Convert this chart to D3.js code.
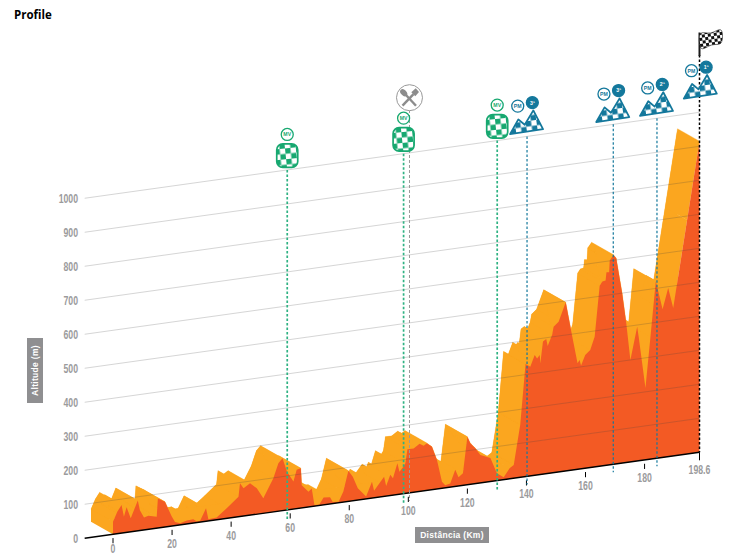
<!DOCTYPE html>
<html>
<head>
<meta charset="utf-8">
<script src="https://cdn.jsdelivr.net/npm/d3@7"></script>
<style>
  html, body { margin: 0; padding: 0; background: #fff; }
  svg { display: block; }
  .num { font-family: "Liberation Sans", sans-serif; font-weight: 700; font-size: 13px; fill: #9b9b9d; }
  .box-label { font-family: "Liberation Sans", sans-serif; font-weight: 700; font-size: 8.5px; fill: #fff; letter-spacing: 0.3px; }
  .badge { font-family: "Liberation Sans", sans-serif; font-weight: 700; font-size: 5.2px; }
</style>
</head>
<body>
<div id="wrapper"></div>
<script>
// Stage profile
const profileKm = [0, 1.5, 2.9, 3.7, 4.6, 6, 8.4, 9.1, 10.5, 12, 14.8, 15.2, 17.6, 19.9, 21, 22.7, 25, 27.2, 28.4, 29.5,
  31.5, 32.3, 35.1, 38.5, 42.5, 43, 44.2, 46.4, 48.7, 50.9, 54.3, 56, 57.4, 58.9, 61.1, 62.2, 63.6, 63.9, 66.2, 67.3,
  68.2, 69.9, 71.3, 73.5, 74.4, 76.4, 78, 79.7, 81.2, 82.9, 85.7, 87.7, 88.4, 91.8, 92.5, 93.9, 94.8, 96.3, 97, 98.2,
  99, 99.7, 101.8, 103.8, 105.2, 106.3, 108, 109.7, 111.4, 112.5, 114.2, 115.9, 117, 118.5, 120, 121, 122.7, 124.4, 127.8, 130,
  132.3, 134.3, 135.7, 137.9, 139.7, 141.3, 142.8, 143.6, 144.5, 144.7, 145.6, 146.7, 147.2, 148.7, 149.2, 150.9, 153.3, 155.4, 157.3, 158,
  158.5, 159.9, 161.6, 163.1, 164.8, 165.7, 166.8, 167.1, 168, 168.2, 169.5, 170.4, 172.4, 173.8, 175.2, 177.5, 178, 180.3, 182, 183.8,
  186.1, 188, 189.7, 194.4, 198.6]
const profileAlt = [37, 65, 83, 47, 74, 40, 89, 60, 37, 40, 34, 87, 74, 28, 11, 5, 10, 11, 3, 4,
  38, 5, 7, 30, 59, 98, 82, 94, 76, 44, 99, 141, 154, 113, 81, 114, 117, 67, 45, 53,
  3, 3, 22, 20, 5, 3, 31, 90, 71, 35, 7, 48, 21, 58, 30, 61, 50, 92, 66, 78,
  89, 129, 129, 140, 133, 139, 126, 85, 19, 8, 11, 49, 26, 36, 141, 121, 104, 82, 69, 22,
  7, 31, 39, 155, 331, 321, 354, 343, 352, 327, 390, 396, 375, 406, 429, 442, 496, 398, 312, 321,
  304, 333, 346, 383, 531, 542, 544, 568, 567, 601, 616, 605, 500, 410, 300, 395, 365, 211, 360, 521,
  436, 496, 435, 688, 915]

const altTicks = [0, 100, 200, 300, 400, 500, 600, 700, 800, 900, 1000]
const kmTicks = [0, 20, 40, 60, 80, 100, 120, 140, 160, 180, 198.6]
const sprintKm = [59, 98.4, 130.1]
const climbKm = [140.2, 169.4, 184.2, 198.6]
const climbRank = ["3ª", "3ª", "2ª", "1ª"]
const feedKm = 100.4
const finishKm = 198.6
const axisStartKm = -9.6

const width = 743
const height = 556
const green = "#17a870"
const blue = "#14789c"
const yellow = "#fba61f"
const orange = "#f35a24"
const backDx = -22
const backDy = -12.5

const xScale = d3.scaleLinear().domain([0, finishKm]).range([113, 699.5])
const baseScale = d3.scaleLinear().domain([0, finishKm]).range([534.3, 452.3])
const altScale = d3.scaleLinear().domain([0, 1000]).range([0, 340])
const topY = km => baseScale(km) - altScale(1000)

const profile = profileKm.map((km, i) => ({ km, alt: profileAlt[i] }))
const fx = d => xScale(d.km)
const fy = d => baseScale(d.km) - altScale(d.alt)

const svg = d3.select("#wrapper").append("svg")
  .attr("width", width)
  .attr("height", height)

const defs = svg.append("defs")
function addChecker(id, color, cell, angle) {
  const p = defs.append("pattern")
    .attr("id", id)
    .attr("patternUnits", "userSpaceOnUse")
    .attr("width", cell * 2)
    .attr("height", cell * 2)
    .attr("patternTransform", `rotate(${angle})`)
  p.append("rect").attr("width", cell * 2).attr("height", cell * 2).attr("fill", "#fff")
  p.append("rect").attr("width", cell).attr("height", cell).attr("fill", color)
  p.append("rect").attr("x", cell).attr("y", cell).attr("width", cell).attr("height", cell).attr("fill", color)
}
addChecker("check-green", green, 5.4, -6)
addChecker("check-blue", blue, 5.4, -8)
addChecker("check-black", "#111", 3, -8)

svg.append("text")
  .attr("x", 14).attr("y", 19)
  .attr("font-family", "'Open Sans', sans-serif")
  .attr("font-weight", 700).attr("font-size", 11.5)
  .text("Profile")

// Yellow extrusion: the profile swept back along the offset
const backArea = d3.area()
  .x(d => fx(d) + backDx)
  .y0(d => baseScale(d.km) + backDy)
  .y1(d => fy(d) + backDy)
svg.append("path").datum(profile).attr("d", backArea).attr("fill", yellow)

svg.selectAll(".sweep")
  .data(d3.pairs(profile))
  .join("path")
  .attr("class", "sweep")
  .attr("fill", yellow).attr("stroke", yellow).attr("stroke-width", 0.3)
  .attr("d", ([a, b]) => d3.line()([
    [fx(a), fy(a)], [fx(b), fy(b)],
    [fx(b) + backDx, fy(b) + backDy], [fx(a) + backDx, fy(a) + backDy]
  ]) + "Z")

const first = profile[0]
const last = profile[profile.length - 1]
svg.append("path").attr("fill", yellow).attr("d", d3.line()([
  [fx(first), fy(first)], [fx(first) + backDx, fy(first) + backDy],
  [fx(first) + backDx, baseScale(0) + backDy], [fx(first), baseScale(0)],
  [fx(last), baseScale(finishKm)], [fx(last) + backDx, baseScale(finishKm) + backDy],
  [fx(first) + backDx, baseScale(0) + backDy]
]) + "Z")

// Front face
const frontArea = d3.area().x(fx).y0(d => baseScale(d.km)).y1(fy)
svg.append("path").datum(profile).attr("d", frontArea).attr("fill", orange)

// Altitude grid runs over the profile
svg.selectAll(".grid")
  .data(altTicks.slice(1))
  .join("line")
  .attr("class", "grid")
  .attr("x1", xScale(axisStartKm)).attr("x2", xScale(finishKm))
  .attr("y1", d => baseScale(axisStartKm) - altScale(d))
  .attr("y2", d => baseScale(finishKm) - altScale(d))
  .attr("stroke", "#444").attr("stroke-opacity", 0.38).attr("stroke-width", 0.6)

svg.append("line")
  .attr("x1", xScale(axisStartKm)).attr("x2", xScale(finishKm))
  .attr("y1", baseScale(axisStartKm)).attr("y2", baseScale(finishKm))
  .attr("stroke", "#000").attr("stroke-width", 1.4)

svg.selectAll(".alt-label")
  .data(altTicks)
  .join("text")
  .attr("class", "num alt-label")
  .attr("text-anchor", "end")
  .attr("transform", d => `translate(78,${baseScale(axisStartKm) - altScale(d) + 4.6}) scale(0.67,1)`)
  .text(d => d)

svg.selectAll(".km-tick")
  .data(kmTicks)
  .join("line")
  .attr("class", "km-tick")
  .attr("x1", xScale).attr("x2", xScale)
  .attr("y1", d => baseScale(d) + (d === finishKm ? 0 : 3.8))
  .attr("y2", d => baseScale(d) + (d === finishKm ? 8 : 9))
  .attr("stroke", "#000").attr("stroke-width", 1)

// km 0 would run off the bottom of the page
svg.selectAll(".km-label")
  .data(kmTicks)
  .join("text")
  .attr("class", "num km-label")
  .attr("text-anchor", "middle")
  .attr("transform", d => `translate(${xScale(d)},${Math.min(baseScale(d) + 22, 553)}) scale(0.67,1)`)
  .text(d => d)

// Axis title boxes
svg.append("rect").attr("x", 27).attr("y", 338).attr("width", 16).attr("height", 65).attr("fill", "#8f8f91")
svg.append("text").attr("class", "box-label")
  .attr("text-anchor", "middle")
  .attr("transform", "translate(38.2,370.5) rotate(-90)")
  .text("Altitude (m)")
svg.append("rect").attr("x", 415).attr("y", 527).attr("width", 74).attr("height", 16).attr("fill", "#8f8f91")
svg.append("text").attr("class", "box-label")
  .attr("x", 452).attr("y", 538).attr("text-anchor", "middle")
  .text("Distância (Km)")

// Marker lines
function markerLine(km, color, w, topAt, bottom, dash) {
  svg.append("line")
    .attr("x1", xScale(km)).attr("x2", xScale(km))
    .attr("y1", topAt).attr("y2", baseScale(km) + bottom)
    .attr("stroke", color).attr("stroke-width", w).attr("stroke-dasharray", dash)
}
markerLine(feedKm, "#9a9a9a", 1, 110, 8, "3,2")
sprintKm.forEach(km => markerLine(km, "#2fb283", 1.7, topY(km), 9, "2.5,2"))
climbKm.slice(0, 3).forEach(km => markerLine(km, blue, 1.2, topY(km), 8, "2.5,2"))
markerLine(finishKm, "#000", 1.5, 55, 0, "2.5,2")

function badge(g, x, y, label, color, filled) {
  g.append("circle").attr("cx", x).attr("cy", y).attr("r", 6)
    .attr("fill", filled ? color : "#fff").attr("stroke", color).attr("stroke-width", 1.3)
  g.append("text").attr("class", "badge")
    .attr("x", x).attr("y", y + 1.9).attr("text-anchor", "middle")
    .attr("fill", filled ? "#fff" : color)
    .text(label)
}

// Intermediate sprints
sprintKm.forEach(km => {
  const g = svg.append("g").attr("transform", `translate(${xScale(km)},${topY(km)})`)
  g.append("rect")
    .attr("x", -10.5).attr("y", -26).attr("width", 21).attr("height", 23.5).attr("rx", 6)
    .attr("fill", "url(#check-green)").attr("stroke", green).attr("stroke-width", 1.7)
  badge(g, 0, -35.5, "MV", green, false)
})

// Climbs, the last one sits higher above the flag line
climbKm.forEach((km, i) => {
  const lift = km === finishKm ? 11.3 : 0
  const shift = km === finishKm ? 1.3 : 0
  const g = svg.append("g").attr("transform", `translate(${xScale(km) + shift},${topY(km) - 4.3 - lift})`)
  g.append("path")
    .attr("d", "M-17,2L-8.7,-12.7L-2.3,-7.3L6.3,-21.7L16,-3Z")
    .attr("fill", "url(#check-blue)").attr("stroke", blue)
    .attr("stroke-width", 1.8).attr("stroke-linejoin", "round")
  badge(g, -9.3, -26, "PM", blue, false)
  badge(g, 5.3, -29.5, climbRank[i], blue, true)
})

// Feed zone
const feed = svg.append("g").attr("transform", `translate(${xScale(feedKm)},97.7)`)
feed.append("circle").attr("r", 13).attr("fill", "#fff").attr("stroke", "#999").attr("stroke-width", 1)
feed.append("line").attr("x1", -7).attr("y1", -6.5).attr("x2", 6.5).attr("y2", 8)
  .attr("stroke", "#8c8c8c").attr("stroke-width", 2.4)
feed.append("ellipse").attr("cx", -5.8).attr("cy", -5).attr("rx", 2.8).attr("ry", 4.2)
  .attr("transform", "rotate(-43,-5.8,-5)").attr("fill", "#8c8c8c")
feed.append("line").attr("x1", 4).attr("y1", -3.5).attr("x2", -7).attr("y2", 8)
  .attr("stroke", "#8c8c8c").attr("stroke-width", 2.4)
feed.append("path").attr("d", "M1.8,-5.5L6.2,-9.5L9.5,-5.8L5.8,-1.5Z").attr("fill", "#8c8c8c")

// Finish flag
const flagX = xScale(finishKm)
svg.append("line").attr("x1", flagX).attr("x2", flagX).attr("y1", 32.5).attr("y2", 56)
  .attr("stroke", "#1a1a1a").attr("stroke-width", 2)
svg.append("path")
  .attr("d", d3.line().curve(d3.curveCatmullRomClosed)([
    [flagX + 1, 33.5], [flagX + 11, 33], [flagX + 21.5, 30], [flagX + 21.5, 43], [flagX + 12, 45], [flagX + 2, 48.5]
  ]))
  .attr("fill", "url(#check-black)").attr("stroke", "#111").attr("stroke-width", 0.6)
</script>
</body>
</html>
